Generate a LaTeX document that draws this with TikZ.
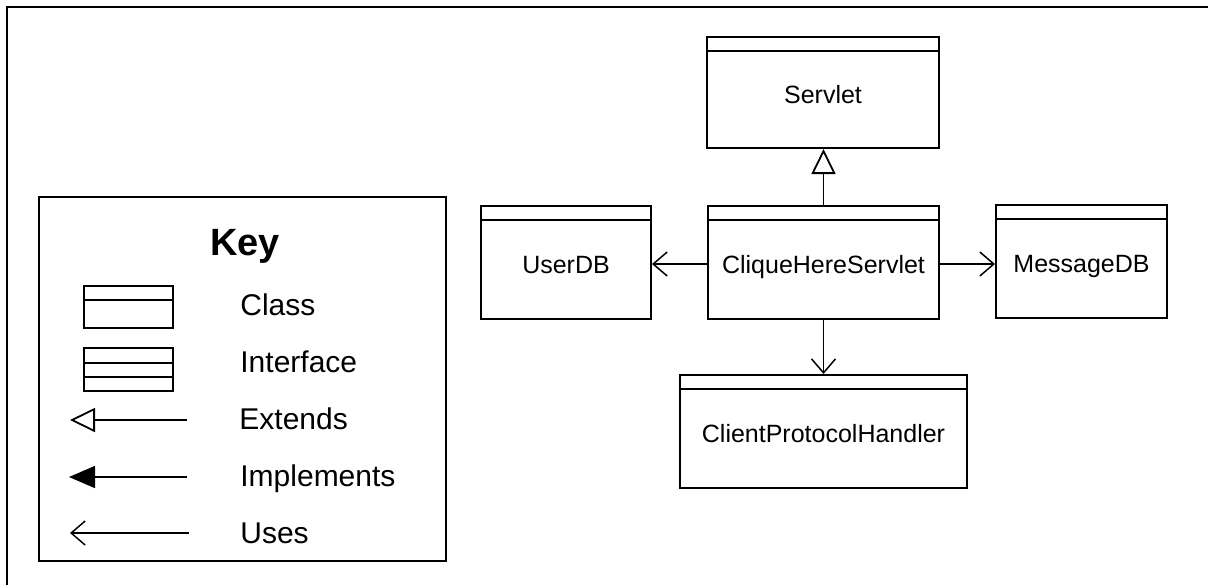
\documentclass[tikz,border=0pt]{standalone}
\usepackage{fontspec}
\setmainfont{Liberation Sans}
\usetikzlibrary{arrows.meta,fit,calc}

% UML class box: name, top-left (x,y), bottom-right (x,y), class name
\newcommand\umlclass[6]{%
  \node[classbox, fit={(#2,#3) (#4,#5)}] (#1) {};
  \draw[boxline] ($(#1.north west)+(0,15)$) -- ($(#1.north east)+(0,15)$);
  \node[classtext] (#1-name) at ($(#1.south)!0.5!(#1.north)+(0,10.5)$) {#6};
}

\tikzset{
  boxline/.style={line width=1pt},
  classbox/.style={draw, line width=1pt, inner sep=0pt},
  classtext/.style={font=\fontsize{12.5pt}{14pt}\selectfont, anchor=base, inner sep=0pt},
  keytext/.style={font=\fontsize{15pt}{17pt}\selectfont, anchor=base west, inner sep=0pt},
  keytitle/.style={font=\fontsize{19pt}{22pt}\selectfont\bfseries, anchor=base, inner sep=0pt},
  conn/.style={line width=0.75pt},
  extends/.style={conn, -{Triangle[open, length=12.5pt, width=12pt, line width=0.9pt]}},
  implements/.style={conn, -{Triangle[length=13pt, width=11pt]}},
  uses/.style={conn, -{Straight Barb[length=7pt, width=12pt, line width=0.75pt]}},
}

\begin{document}
\begin{tikzpicture}[x=0.5pt, y=-0.5pt]
  \useasboundingbox (0,0) rectangle (1208,585);

  % outer frame (open to the right and bottom)
  \draw[line width=1pt] (7,585) -- (7,7) -- (1208,7);

  % ---- key ----
  \node[classbox, fit={(39,197) (446,561)}] (key) {};
  \node[keytitle] (key-title) at (245,255) {Key};

  \node[classbox, fit={(84,286) (173,328)}] (icon-class) {};
  \draw[boxline] ($(icon-class.north west)+(0,15)$) -- ($(icon-class.north east)+(0,15)$);
  \node[keytext] (lbl-class) at (240,315) {Class};

  \node[classbox, fit={(84,348) (173,391)}] (icon-iface) {};
  \draw[boxline] ($(icon-iface.north west)+(0,16)$) -- ($(icon-iface.north east)+(0,16)$);
  \draw[boxline] ($(icon-iface.north west)+(0,30)$) -- ($(icon-iface.north east)+(0,30)$);
  \node[keytext] (lbl-iface) at (240,372) {Interface};

  \coordinate (ext-from) at (187,420);
  \coordinate (ext-to) at (70,420);
  \draw[extends] (ext-from) -- (ext-to);
  \node[keytext] (lbl-ext) at (239,429) {Extends};

  \coordinate (impl-from) at (187,477);
  \coordinate (impl-to) at (69,477);
  \draw[implements] (impl-from) -- (impl-to);
  \node[keytext] (lbl-impl) at (240,486) {Implements};

  \coordinate (uses-from) at (189,533);
  \coordinate (uses-to) at (70,533);
  \draw[uses] (uses-from) -- (uses-to);
  \node[keytext] (lbl-uses) at (240,543) {Uses};

  % ---- classes ----
  \umlclass{servlet}{707}{37}{939}{148}{Servlet}
  \umlclass{userdb}{481}{206}{651}{319}{UserDB}
  \umlclass{chs}{708}{206}{939}{319}{CliqueHereServlet}
  \umlclass{msgdb}{996}{205}{1167}{318}{MessageDB}
  \umlclass{cph}{680}{375}{967}{488}{ClientProtocolHandler}

  % ---- relations ----
  \coordinate (chs-w) at ($(chs.west)+(0,1.5)$);
  \coordinate (chs-e) at ($(chs.east)+(0,1.5)$);
  \draw[extends] (chs.north) -- (chs.north |- servlet.south);
  \draw[uses] (chs-w) -- (chs-w -| userdb.east);
  \draw[uses] (chs-e) -- (chs-e -| msgdb.west);
  \draw[uses] (chs.south) -- (chs.south |- cph.north);
\end{tikzpicture}
\end{document}
